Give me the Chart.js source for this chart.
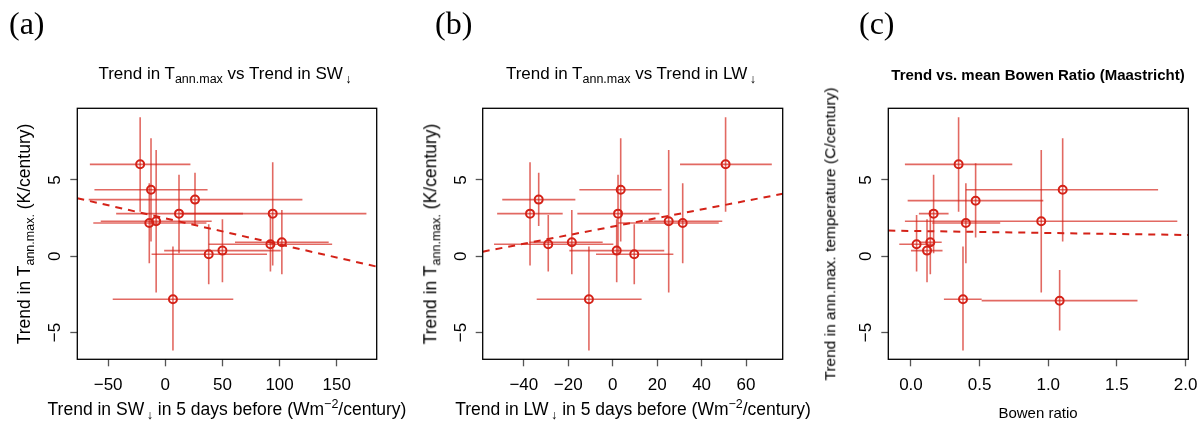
<!DOCTYPE html>
<html>
<head>
<meta charset="utf-8">
<script src="https://cdn.jsdelivr.net/npm/chart.js@4.4.1/dist/chart.umd.min.js"></script>
<style>
  body { margin: 0; background: #fff; width: 1202px; height: 427px; overflow: hidden; position: relative;
         font-family: "Liberation Sans", Arial, sans-serif; color: #000; }
  canvas { position: absolute; left: 0; top: 0; }
  .lbl { position: absolute; white-space: nowrap; line-height: 1; }
  .tag { font-family: "Liberation Serif", serif; font-size: 32px; }
  .ttl { font-size: 17px; transform: translateX(-50%); }
  .xt { font-size: 17.5px; transform: translateX(-50%); }
  .yt { font-size: 17.5px; transform: translate(-50%, -50%) rotate(-90deg); }
  sub { font-size: 12.5px; vertical-align: -4px; line-height: 0; }
  sup { font-size: 12.5px; vertical-align: 7px; line-height: 0; }
</style>
</head>
<body>
<canvas id="chartA" width="1202" height="427"></canvas>
<canvas id="chartB" width="1202" height="427"></canvas>
<canvas id="chartC" width="1202" height="427"></canvas>

<div class="lbl tag" style="left:9px;top:7px">(a)</div>
<div class="lbl tag" style="left:435px;top:7px">(b)</div>
<div class="lbl tag" style="left:859px;top:7px">(c)</div>

<div class="lbl ttl" style="left:225px;top:65px">Trend in T<sub>ann.max</sub> vs Trend in SW<sub>&thinsp;↓</sub></div>
<div class="lbl ttl" style="left:631px;top:65px">Trend in T<sub>ann.max</sub> vs Trend in LW<sub>&thinsp;↓</sub></div>
<div class="lbl ttl" style="left:1038px;top:67px;font-size:15px;font-weight:bold">Trend vs. mean Bowen Ratio (Maastricht)</div>

<div class="lbl xt" style="left:227px;top:401px">Trend in SW<sub>&thinsp;↓</sub> in 5 days before (Wm<sup>−2</sup>/century)</div>
<div class="lbl xt" style="left:633px;top:401px">Trend in LW<sub>&thinsp;↓</sub> in 5 days before (Wm<sup>−2</sup>/century)</div>
<div class="lbl xt" style="left:1038px;top:405px;font-size:15px">Bowen ratio</div>

<div class="lbl yt" style="left:25px;top:234px">Trend in T<sub>ann.max.</sub> (K/century)</div>
<div class="lbl yt" style="left:431px;top:234px">Trend in T<sub>ann.max.</sub> (K/century)</div>
<div class="lbl yt" style="left:830px;top:234px;font-size:15.5px">Trend in ann.max. temperature (C/century)</div>

<script>
// Shared y values (trend in Tmax, K/century) for panels (a) and (b)
const tY   = [6.02, 4.36, 3.71, 2.79, 2.79, 2.29, 2.18, 0.92, 0.79, 0.37, 0.13, -2.82];
const tYLo = [2.92, 0.96, 1.98, 0.20, -0.61, -2.38, -0.46, -1.18, -1.00, -1.70, -1.83, -6.18];
const tYHi = [9.10, 7.73, 5.47, 5.34, 6.16, 6.96, 4.78, 3.03, 2.70, 2.42, 2.10, 0.63];

// (a) trend in SW down
const swX   = [-22, -12.5, 26, 12, 94, -8, -14, 102, 92, 50, 38, 6.7];
const swXLo = [-66, -62, -67, -43, 13, -56.5, -63, 61, 38, -1, -12, -46];
const swXHi = [22, 37, 120, 68, 176, 40.6, 36, 143, 146, 101, 89, 59.5];
const swFitX = [-77, 185];
const swFitY = [3.80, -0.68];

// (b) trend in LW down
const lwX   = [50.8, 3.6, -33.3, 2.4, -37.2, 25.2, 31.5, -18.4, -29, 1.8, 9.7, -10.7];
const lwXLo = [30.3, -15, -49.7, -15.9, -52, 14.2, 2.5, -37.5, -53.4, -19.5, -7.5, -34.2];
const lwXHi = [71.6, 22, -16.8, 21, -22.5, 49.3, 47.7, -4.5, 0.3, 23.2, 27.3, 13];
const lwFitX = [-58.5, 76.5];
const lwFitY = [0.30, 4.09];

// (c) Bowen ratio
const bwX   = [0.347, 1.105, 0.471, 0.165, 0.40, 0.949, 0.041, 0.141, 0.117, 0.379, 1.083];
const bwXLo = [-0.044, 0.40, -0.024, 0.058, 0.155, -0.044, -0.085, 0.06, 0.0, 0.24, 0.515];
const bwXHi = [0.738, 1.80, 0.964, 0.274, 0.65, 1.94, 0.162, 0.224, 0.23, 0.515, 1.65];
const bwY   = [6.02, 4.36, 3.64, 2.79, 2.18, 2.29, 0.79, 0.92, 0.37, -2.82, -2.91];
const bwYLo = [2.92, 0.96, 1.22, 0.20, -0.46, -2.38, -1.00, -1.18, -1.70, -6.18, -4.87];
const bwYHi = [9.10, 7.73, 6.09, 5.34, 4.78, 6.96, 2.70, 3.03, 2.42, 0.63, -0.90];
const bwFitX = [-0.165, 2.02];
const bwFitY = [1.68, 1.39];

// ticks
const yTicks = [-5, 0, 5];
const yTickLabels = ['−5', '0', '5'];
const swTicks = [-50, 0, 50, 100, 150];
const swTickLabels = ['−50', '0', '50', '100', '150'];
const lwTicks = [-40, -20, 0, 20, 40, 60];
const lwTickLabels = ['−40', '−20', '0', '20', '40', '60'];
const bwTicks = [0, 0.5, 1, 1.5, 2];
const bwTickLabels = ['0.0', '0.5', '1.0', '1.5', '2.0'];

const RED = '#d42218';
const BAR = 'rgba(212, 34, 24, 0.68)';
const FONT = '"Liberation Sans", Arial, sans-serif';

// R-style box around plot area
const boxPlugin = {
    id: 'box',
    afterDraw(chart) {
        const a = chart.chartArea;
        const ctx = chart.ctx;
        ctx.save();
        ctx.strokeStyle = '#000';
        ctx.lineWidth = 1.3;
        ctx.strokeRect(a.left, a.top, a.right - a.left, a.bottom - a.top);
        ctx.restore();
    }
};

function buildDatasets(xs, xlo, xhi, ys, ylo, yhi, fitX, fitY) {
    const ds = [];
    xs.forEach((x, i) => {
        ds.push({ data: [{ x: xlo[i], y: ys[i] }, { x: xhi[i], y: ys[i] }],
                  showLine: true, borderColor: BAR, borderWidth: 1.6, pointRadius: 0 });
        ds.push({ data: [{ x: x, y: ylo[i] }, { x: x, y: yhi[i] }],
                  showLine: true, borderColor: BAR, borderWidth: 1.6, pointRadius: 0 });
    });
    ds.push({ data: fitX.map((x, i) => ({ x: x, y: fitY[i] })),
              showLine: true, borderColor: RED, borderWidth: 2, borderDash: [7, 6], pointRadius: 0 });
    ds.push({ data: xs.map((x, i) => ({ x: x, y: ys[i] })),
              showLine: false, pointRadius: 4, pointBorderWidth: 2,
              pointBorderColor: RED, pointBackgroundColor: 'rgba(0,0,0,0)' });
    return ds;
}

function makeChart(id, box, xr, xt, xl, ds) {
    const W = 1202, H = 427;
    new Chart(document.getElementById(id), {
        type: 'scatter',
        data: { datasets: ds },
        options: {
            responsive: false,
            animation: false,
            events: [],
            layout: { padding: { left: box[0] - 60, right: W - box[1], top: box[2], bottom: H - box[3] - 60 } },
            plugins: { legend: { display: false }, tooltip: { enabled: false } },
            scales: {
                x: {
                    type: 'linear', min: xr[0], max: xr[1],
                    afterBuildTicks: s => { s.ticks = xt.map(v => ({ value: v })); },
                    afterFit: s => { s.height = 60; s.paddingLeft = 0; s.paddingRight = 0; },
                    grid: { drawOnChartArea: false, drawTicks: true, tickLength: 7, tickColor: '#555', tickWidth: 1.3 },
                    border: { display: false },
                    ticks: { color: '#000', font: { family: FONT, size: 17 }, padding: 9,
                             maxRotation: 0, autoSkip: false, callback: (v, i) => xl[i] }
                },
                y: {
                    type: 'linear', min: -6.75, max: 9.69,
                    afterBuildTicks: s => { s.ticks = yTicks.map(v => ({ value: v })); },
                    afterFit: s => { s.width = 60; s.paddingTop = 0; s.paddingBottom = 0; },
                    grid: { drawOnChartArea: false, drawTicks: true, tickLength: 7, tickColor: '#555', tickWidth: 1.3 },
                    border: { display: false },
                    ticks: { color: '#000', font: { family: FONT, size: 17 }, padding: 5,
                             minRotation: 90, maxRotation: 90, crossAlign: 'center',
                             autoSkip: false, callback: (v, i) => yTickLabels[i] }
                }
            }
        },
        plugins: [boxPlugin]
    });
}

makeChart('chartA', [77.3, 376.7, 108.3, 359.3], [-77, 185], swTicks, swTickLabels,
    buildDatasets(swX, swXLo, swXHi, tY, tYLo, tYHi, swFitX, swFitY));
makeChart('chartB', [482.7, 782.7, 108.3, 359.3], [-58.5, 76.5], lwTicks, lwTickLabels,
    buildDatasets(lwX, lwXLo, lwXHi, tY, tYLo, tYHi, lwFitX, lwFitY));
makeChart('chartC', [888.3, 1188.3, 108.3, 359.3], [-0.165, 2.02], bwTicks, bwTickLabels,
    buildDatasets(bwX, bwXLo, bwXHi, bwY, bwYLo, bwYHi, bwFitX, bwFitY));
</script>
</body>
</html>
